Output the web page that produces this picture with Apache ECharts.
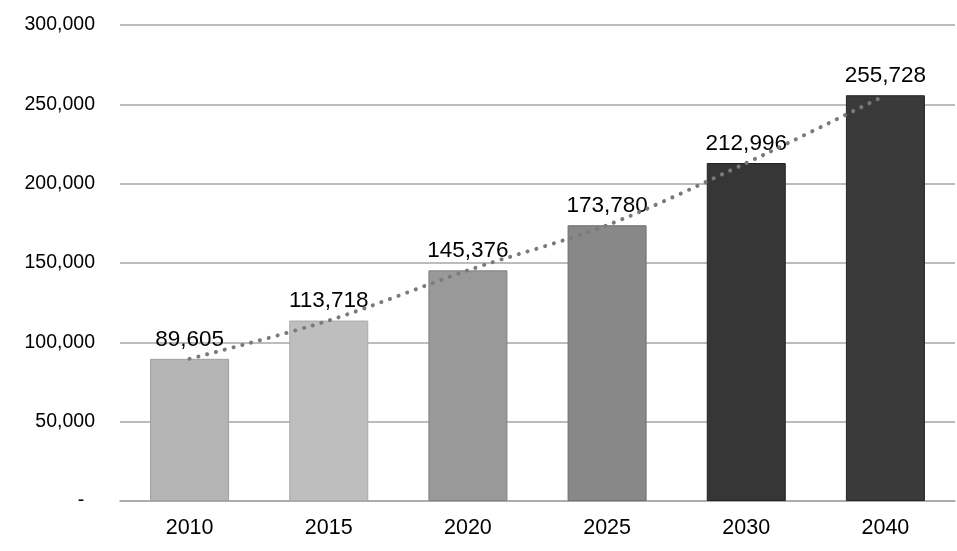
<!DOCTYPE html>
<html><head><meta charset="utf-8">
<script src="https://cdn.jsdelivr.net/npm/echarts@6/dist/echarts.min.js"></script>
<style>html,body{margin:0;padding:0;background:#fff}#c{width:957px;height:551px}</style>
</head><body><div id="c"></div>
<script>
const categories = ['2010','2015','2020','2025','2030','2040'];
const values = [89605, 113718, 145376, 173780, 212996, 255728];
const barColors = ['#b4b4b4','#bebebe','#999999','#888888','#363636','#3a3a3a'];
const borderColors = ['#a0a0a0','#a8a8a8','#808080','#6e6e6e','#222222','#252525'];
const yTicks = [0, 50000, 100000, 150000, 200000, 250000, 300000];

const chart = echarts.init(document.getElementById('c'), null, {renderer:'canvas'});
const fmt = v => v === 0 ? '-' : v.toLocaleString('en-US');
chart.setOption({
  animation:false,
  grid:{left:120, right:2, top:25, bottom:50, containLabel:false},
  xAxis:{type:'category', data:categories,
    axisLine:{lineStyle:{color:'#a6a6a6', width:1.5}}, axisTick:{show:false},
    axisLabel:{color:'#000', fontSize:21.5, fontFamily:'Liberation Sans, Arial', margin:16}},
  yAxis:{type:'value', min:yTicks[0], max:yTicks[yTicks.length-1], interval:yTicks[1]-yTicks[0],
    axisLine:{show:false}, axisTick:{show:false},
    splitLine:{lineStyle:{color:'#a6a6a6', width:1.5}},
    axisLabel:{color:'#000', fontSize:19.5, fontFamily:'Liberation Sans, Arial', margin:25,
      formatter:v => v === 0 ? '-\u00a0\u00a0' : fmt(v)}},
  series:[
    {type:'bar', data:values.map((v,i)=>({value:v, itemStyle:{color:barColors[i], borderColor:borderColors[i], borderWidth:1}})),
     barWidth:79,
     label:{show:true, position:'top', distance:8, color:'#000', fontSize:22.5, fontFamily:'Liberation Sans, Arial', formatter:p=>fmt(p.value)}},
    {type:'line', data:values, smooth:0.3, symbol:'none', z:5,
     lineStyle:{color:'#7a7a7a', width:4, type:[0.1,9], cap:'round'}}
  ]
});
</script></body></html>
